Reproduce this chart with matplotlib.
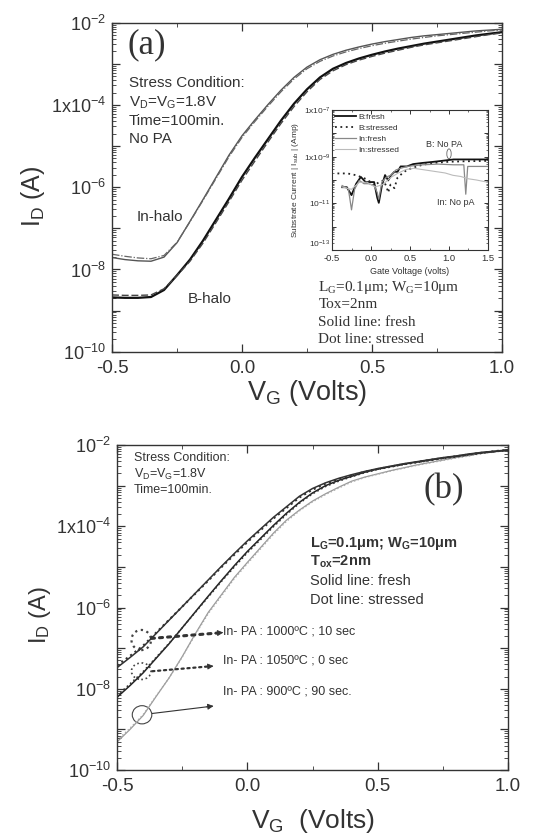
import numpy as np
import matplotlib
matplotlib.use('Agg')
import matplotlib.pyplot as plt
from matplotlib.patches import Ellipse
from matplotlib.ticker import FixedLocator, FixedFormatter, LogLocator, NullFormatter

plt.rcParams['font.family'] = ['Liberation Sans', 'DejaVu Sans']
plt.rcParams['mathtext.fontset'] = 'custom'
plt.rcParams['mathtext.rm'] = 'Liberation Sans'
plt.rcParams['mathtext.it'] = 'Liberation Sans:italic'
plt.rcParams['mathtext.bf'] = 'Liberation Sans:bold'

# ---------------- data ----------------
vg = [-0.50, -0.45, -0.40, -0.35, -0.30, -0.25, -0.20, -0.15, -0.10, -0.05,
      0.00, 0.05, 0.10, 0.15, 0.20, 0.25, 0.30, 0.35, 0.40, 0.45,
      0.50, 0.55, 0.60, 0.65, 0.70, 0.75, 0.80, 0.85, 0.90, 0.95, 1.00]

# panel (a): log10(I_D / A)
a_in_fresh = [-7.71, -7.76, -7.79, -7.80, -7.70, -7.35, -6.83, -6.30, -5.76, -5.22,
              -4.75, -4.36, -3.99, -3.64, -3.33, -3.08, -2.90, -2.77, -2.67, -2.59,
              -2.52, -2.46, -2.41, -2.36, -2.32, -2.29, -2.26, -2.23, -2.20, -2.18, -2.16]
a_in_stress = [-7.63, -7.68, -7.72, -7.74, -7.66, -7.34, -6.84, -6.32, -5.79, -5.26,
               -4.79, -4.40, -4.03, -3.68, -3.37, -3.12, -2.94, -2.81, -2.71, -2.63,
               -2.56, -2.50, -2.45, -2.40, -2.36, -2.32, -2.29, -2.26, -2.23, -2.20, -2.18]
a_b_fresh = [-8.68, -8.69, -8.69, -8.67, -8.50, -8.14, -7.76, -7.30, -6.79, -6.28,
             -5.75, -5.28, -4.83, -4.38, -3.97, -3.62, -3.33, -3.12, -2.98, -2.87,
             -2.78, -2.70, -2.63, -2.57, -2.51, -2.46, -2.41, -2.36, -2.31, -2.27, -2.23]
a_b_stress = [-8.62, -8.63, -8.63, -8.62, -8.47, -8.15, -7.80, -7.36, -6.86, -6.35,
              -5.83, -5.36, -4.90, -4.45, -4.04, -3.68, -3.38, -3.17, -3.02, -2.91,
              -2.82, -2.74, -2.67, -2.60, -2.54, -2.49, -2.44, -2.39, -2.34, -2.29, -2.25]

# panel (b): log10(I_D / A)
b_1000_fresh = [-7.48, -7.23, -6.97, -6.64, -6.31, -5.98, -5.65, -5.32, -4.99, -4.67,
                -4.36, -4.07, -3.78, -3.52, -3.26, -3.07, -2.93, -2.82, -2.73, -2.65,
                -2.58, -2.52, -2.46, -2.41, -2.36, -2.31, -2.27, -2.22, -2.18, -2.15, -2.12]
b_1000_stress = [-7.43, -7.19, -6.94, -6.62, -6.30, -5.98, -5.66, -5.34, -5.01, -4.70,
                 -4.39, -4.10, -3.81, -3.55, -3.29, -3.10, -2.95, -2.84, -2.75, -2.66,
                 -2.59, -2.53, -2.47, -2.42, -2.37, -2.32, -2.28, -2.23, -2.19, -2.15, -2.12]
b_1050_fresh = [-8.21, -7.92, -7.61, -7.25, -6.89, -6.50, -6.11, -5.72, -5.34, -4.97,
                -4.62, -4.30, -3.98, -3.68, -3.41, -3.18, -3.00, -2.87, -2.77, -2.67,
                -2.59, -2.53, -2.47, -2.42, -2.37, -2.32, -2.28, -2.23, -2.19, -2.16, -2.13]
b_1050_stress = [-8.17, -7.88, -7.58, -7.23, -6.88, -6.50, -6.12, -5.74, -5.36, -5.00,
                 -4.65, -4.33, -4.01, -3.71, -3.43, -3.20, -3.02, -2.89, -2.78, -2.68,
                 -2.60, -2.54, -2.48, -2.43, -2.38, -2.33, -2.29, -2.24, -2.20, -2.16, -2.13]
b_900_fresh = [-9.31, -9.00, -8.66, -8.19, -7.73, -7.21, -6.65, -6.12, -5.69, -5.26,
               -4.89, -4.53, -4.17, -3.85, -3.60, -3.38, -3.20, -3.04, -2.89, -2.79,
               -2.71, -2.63, -2.56, -2.49, -2.43, -2.37, -2.31, -2.26, -2.20, -2.16, -2.12]
b_900_stress = [-9.27, -8.97, -8.64, -8.18, -7.73, -7.22, -6.67, -6.15, -5.72, -5.29,
                -4.92, -4.56, -4.20, -3.88, -3.62, -3.40, -3.22, -3.06, -2.91, -2.80,
                -2.72, -2.64, -2.57, -2.50, -2.44, -2.38, -2.32, -2.27, -2.21, -2.17, -2.13]

# inset: substrate current, log10(|I_sub| / A)
ins_b_fresh_v = [-0.37, -0.31, -0.25, -0.19, -0.13, -0.07, 0.00, 0.04, 0.08, 0.10, 0.14, 0.18,
                 0.22, 0.26, 0.30, 0.34, 0.38, 0.46, 0.54, 0.66, 0.78, 0.86, 1.06, 1.26, 1.50]
ins_b_fresh = [-10.31, -10.31, -10.65, -10.16, -9.87, -10.09, -10.09, -10.09, -10.76, -10.98, -10.24, -9.79,
               -10.02, -9.79, -9.65, -9.65, -9.42, -9.42, -9.32, -9.27, -9.23, -9.20, -9.12, -9.12, -9.12]
ins_b_stress_v = [-0.43, -0.37, -0.31, -0.25, -0.19, -0.13, -0.07, 0.00, 0.04, 0.10, 0.16, 0.20,
                  0.22, 0.25, 0.30, 0.34, 0.40, 0.46, 0.56, 0.66, 0.80, 1.00, 1.20, 1.50]
ins_b_stress = [-9.72, -9.72, -9.72, -9.75, -9.80, -9.87, -9.95, -10.10, -10.24, -10.10, -10.02, -10.30,
                -10.54, -10.20, -10.35, -9.90, -9.72, -9.57, -9.45, -9.35, -9.27, -9.22, -9.20, -9.18]
ins_in_fresh_v = [-0.37, -0.29, -0.25, -0.21, -0.15, -0.09, -0.03, 0.04, 0.08, 0.10, 0.14, 0.20,
                  0.26, 0.32, 0.38, 0.46, 0.66, 0.86, 1.06, 1.19, 1.215, 1.24, 1.30, 1.50]
ins_in_fresh = [-10.24, -10.39, -11.28, -10.39, -10.02, -10.16, -10.16, -10.24, -10.54, -10.83, -10.09, -9.87,
                -9.79, -9.57, -9.50, -9.42, -9.35, -9.32, -9.35, -9.35, -10.61, -9.42, -9.42, -9.42]
ins_in_stress_v = [-0.37, -0.25, -0.15, -0.05, 0.05, 0.15, 0.25, 0.35, 0.45, 0.55,
                   0.65, 0.75, 0.85, 0.95, 1.05, 1.15, 1.25, 1.35, 1.50]
ins_in_stress = [-10.30, -10.40, -10.10, -10.10, -10.30, -10.20, -9.90, -9.70, -9.55, -9.50,
                 -9.55, -9.60, -9.65, -9.70, -9.80, -9.85, -9.95, -10.00, -10.10]

x_ticks = [-0.5, 0.0, 0.5, 1.0]
x_tick_labels = ['-0.5', '0.0', '0.5', '1.0']
x_minor = [-0.25, 0.25, 0.75]
y_decades = [1e-10, 1e-9, 1e-8, 1e-7, 1e-6, 1e-5, 1e-4, 1e-3, 1e-2]
y_labels = [r'$10^{-10}$', '', r'$10^{-8}$', '', r'$10^{-6}$', '', r'$1\mathrm{x}10^{-4}$', '', r'$10^{-2}$']

ins_x_ticks = [-0.5, 0.0, 0.5, 1.0, 1.5]
ins_x_labels = ['-0.5', '0.0', '0.5', '1.0', '1.5']
ins_x_minor = [-0.25, 0.25, 0.75, 1.25]
ins_decades = [1e-13, 1e-12, 1e-11, 1e-10, 1e-9, 1e-8, 1e-7]
ins_y_labels = [r'$10^{-13}$', '', r'$10^{-11}$', '', r'$1\mathrm{x}10^{-9}$', '', r'$1\mathrm{x}10^{-7}$']

TXT = '#333333'
SERIF = ['Liberation Serif', 'DejaVu Serif']


def pw(lst):
    return 10.0 ** np.asarray(lst)


fig = plt.figure(figsize=(5.45, 8.4), dpi=100)
fig.patch.set_facecolor('white')
axA = fig.add_axes([0.2055, 0.5813, 0.7156, 0.3917])
axB = fig.add_axes([0.2147, 0.0833, 0.7174, 0.3869])


def style_main(ax):
    ax.set_yscale('log')
    ax.set_xlim(-0.5, 1.0)
    ax.set_ylim(1e-10, 1e-2)
    ax.xaxis.set_major_locator(FixedLocator(x_ticks))
    ax.xaxis.set_major_formatter(FixedFormatter(x_tick_labels))
    ax.xaxis.set_minor_locator(FixedLocator(x_minor))
    ax.yaxis.set_major_locator(FixedLocator(y_decades))
    ax.yaxis.set_major_formatter(FixedFormatter(y_labels))
    ax.yaxis.set_minor_locator(LogLocator(base=10, subs=np.arange(2, 10) * 1.0, numticks=100))
    ax.yaxis.set_minor_formatter(NullFormatter())
    ax.tick_params(which='both', direction='in', top=True, right=True, color=TXT, labelcolor=TXT)
    ax.tick_params(which='major', length=6, width=0.9)
    ax.tick_params(which='minor', length=3, width=0.6)
    ax.tick_params(axis='x', labelsize=13.5, pad=6)
    ax.tick_params(axis='y', labelsize=13, pad=4)
    for s in ax.spines.values():
        s.set_linewidth(1.0)
        s.set_color(TXT)


# ---------------- panel (a) ----------------
style_main(axA)
axA.plot(vg, pw(a_in_fresh), color='#555555', lw=1.0)
axA.plot(vg, pw(a_in_stress), color='#666666', lw=0.9, dashes=(6, 1.5, 1, 1.5))
axA.plot(vg, pw(a_b_fresh), color='#111111', lw=1.6)
axA.plot(vg, pw(a_b_stress), color='#444444', lw=1.0, dashes=(5, 2))

axA.set_xlabel(r'V$_\mathregular{G}$ (Volts)', fontsize=19.5, color=TXT, va='baseline')
axA.xaxis.set_label_coords(0.499, -0.147)
axA.set_ylabel(r'I$_\mathregular{D}$ (A)', fontsize=18, color=TXT, va='center', ha='center')
axA.yaxis.set_label_coords(-0.203, 0.471)

axA.text(0.04, 0.932, '(a)', transform=axA.transAxes, fontsize=25, family=SERIF,
         va='center', color=TXT)
for txt, fy in [('Stress Condition:', 0.818),
                (r'V$_\mathregular{D}$=V$_\mathregular{G}$=1.8V', 0.758),
                ('Time=100min.', 0.701), ('No PA', 0.646)]:
    axA.text(0.043, fy, txt, transform=axA.transAxes, fontsize=11, va='center', color=TXT)
axA.text(0.063, 0.41, 'In-halo', transform=axA.transAxes, fontsize=11, va='center', color=TXT)
axA.text(0.195, 0.16, 'B-halo', transform=axA.transAxes, fontsize=11, va='center', color=TXT)
for txt, fy in [(r'L$_\mathregular{G}$=0.1μm; W$_\mathregular{G}$=10μm', 0.196),
                ('Tox=2nm', 0.143), ('Solid line: fresh', 0.090), ('Dot line: stressed', 0.037)]:
    axA.text(0.529, fy, txt, transform=axA.transAxes, fontsize=11, family=SERIF,
             va='center', color=TXT)

# ---------------- inset ----------------
axI = fig.add_axes([0.6092, 0.7024, 0.2862, 0.1667])
axI.set_yscale('log')
axI.set_xlim(-0.5, 1.5)
axI.set_ylim(1e-13, 1e-7)
l1, = axI.plot(ins_b_fresh_v, pw(ins_b_fresh), color='#111111', lw=1.3, label='B:fresh')
l2, = axI.plot(ins_b_stress_v, pw(ins_b_stress), color='#222222', lw=1.3, ls=(0, (1, 2)),
               label='B:stressed')
l3, = axI.plot(ins_in_fresh_v, pw(ins_in_fresh), color='#888888', lw=0.9, label='In:fresh')
l4, = axI.plot(ins_in_stress_v, pw(ins_in_stress), color='#bbbbbb', lw=0.8, label='In:stressed')
axI.xaxis.set_major_locator(FixedLocator(ins_x_ticks))
axI.xaxis.set_major_formatter(FixedFormatter(ins_x_labels))
axI.xaxis.set_minor_locator(FixedLocator(ins_x_minor))
axI.yaxis.set_major_locator(FixedLocator(ins_decades))
axI.yaxis.set_major_formatter(FixedFormatter(ins_y_labels))
axI.yaxis.set_minor_locator(LogLocator(base=10, subs=np.arange(2, 10) * 1.0, numticks=100))
axI.yaxis.set_minor_formatter(NullFormatter())
axI.tick_params(which='both', direction='in', top=True, right=True, color=TXT, labelcolor=TXT)
axI.tick_params(which='major', length=3, width=0.7)
axI.tick_params(which='minor', length=1.5, width=0.5)
axI.tick_params(axis='x', labelsize=6.8, pad=3.0)
axI.tick_params(axis='y', labelsize=6, pad=1.2)
for s in axI.spines.values():
    s.set_linewidth(0.8)
    s.set_color(TXT)
# lift the bottom-most y label just above the corner so it clears the "-0.5" label
axI.yaxis.get_major_ticks()[0].label1.set_verticalalignment('bottom')
axI.set_xlabel('Gate Voltage (volts)', fontsize=6.5, color=TXT, va='center')
axI.xaxis.set_label_coords(0.5, -0.155)
axI.set_ylabel(r'Substrate Current | I$_\mathregular{sub}$ | (Amp)', fontsize=6, color=TXT,
               va='center', ha='center')
axI.yaxis.set_label_coords(-0.235, 0.5)
leg = axI.legend(handles=[l1, l2, l3, l4], loc='upper left', bbox_to_anchor=(0.02, 0.975),
                 frameon=False, fontsize=6, handlelength=2.5, handletextpad=0.25,
                 labelspacing=0.35, borderaxespad=0.0, borderpad=0.0)
for t in leg.get_texts():
    t.set_color(TXT)
axI.text(0.60, 0.755, 'B: No PA', transform=axI.transAxes, fontsize=6.5, va='center', color=TXT)
axI.text(0.675, 0.34, 'In: No pA', transform=axI.transAxes, fontsize=6.5, va='center', color=TXT)
axI.add_patch(Ellipse((0.75, 0.687), 0.028, 0.07, transform=axI.transAxes, fill=False,
                      lw=0.6, color='#666666'))

# ---------------- panel (b) ----------------
style_main(axB)
axB.plot(vg, pw(b_900_fresh), color='#9a9a9a', lw=0.9)
axB.plot(vg, pw(b_900_stress), color='#aaaaaa', lw=1.0, ls=':')
axB.plot(vg, pw(b_1050_fresh), color='#222222', lw=1.1)
axB.plot(vg, pw(b_1050_stress), color='#333333', lw=1.2, ls=':')
axB.plot(vg, pw(b_1000_fresh), color='#333333', lw=1.1)
axB.plot(vg, pw(b_1000_stress), color='#333333', lw=1.5, ls=':')

axB.set_xlabel(r'V$_\mathregular{G}$  (Volts)', fontsize=19, color=TXT, va='baseline')
axB.xaxis.set_label_coords(0.502, -0.178)
axB.set_ylabel(r'I$_\mathregular{D}$ (A)', fontsize=17, color=TXT, va='center', ha='center')
axB.yaxis.set_label_coords(-0.197, 0.477)

for txt, fy in [('Stress Condition:', 0.959),
                (r'V$_\mathregular{D}$=V$_\mathregular{G}$=1.8V', 0.91),
                ('Time=100min.', 0.862)]:
    axB.text(0.043, fy, txt, transform=axB.transAxes, fontsize=9, va='center', color=TXT)
axB.text(0.835, 0.862, '(b)', transform=axB.transAxes, fontsize=25, family=SERIF,
         ha='center', va='center', color=TXT)
axB.text(0.493, 0.697, r'L$_\mathregular{G}$=0.1μm; W$_\mathregular{G}$=10μm', transform=axB.transAxes,
         fontsize=10.5, fontweight='bold', va='center', color=TXT)
axB.text(0.493, 0.641, r'T$_\mathregular{ox}$=2nm', transform=axB.transAxes,
         fontsize=10.5, fontweight='bold', va='center', color=TXT)
axB.text(0.493, 0.583, 'Solid line: fresh', transform=axB.transAxes, fontsize=10.5,
         va='center', color=TXT)
axB.text(0.493, 0.523, 'Dot line: stressed', transform=axB.transAxes, fontsize=10.5,
         va='center', color=TXT)

ann_texts = ['In- PA : 1000ºC ; 10 sec', 'In- PA : 1050ºC ; 0 sec', 'In- PA : 900ºC ; 90 sec.']
ann_y = [0.427, 0.337, 0.243]
for txt, fy in zip(ann_texts, ann_y):
    axB.text(0.271, fy, txt, transform=axB.transAxes, fontsize=9, va='center', color=TXT)

ells = [((0.062, 0.40), 0.050, 0.062, ':', 1.6),
        ((0.062, 0.304), 0.050, 0.051, ':', 1.2),
        ((0.064, 0.17), 0.050, 0.056, '-', 0.8)]
for (c, w, h, ls, lw) in ells:
    axB.add_patch(Ellipse(c, w, h, transform=axB.transAxes, fill=False, ls=ls, lw=lw,
                          color='#444444'))

arrows = [((0.088, 0.405), (0.272, 0.423), ':', 2.2),
          ((0.090, 0.304), (0.247, 0.320), ':', 1.6),
          ((0.090, 0.174), (0.247, 0.197), '-', 0.8)]
for (p0, p1, ls, lw) in arrows:
    axB.annotate('', xy=p1, xytext=p0, xycoords='axes fraction', textcoords='axes fraction',
                 arrowprops=dict(arrowstyle='-', ls=ls, lw=lw, color='#333333',
                                 shrinkA=0, shrinkB=4))
    dx, dy = p1[0] - p0[0], p1[1] - p0[1]
    axB.annotate('', xy=p1, xytext=(p1[0] - dx * 0.12, p1[1] - dy * 0.12),
                 xycoords='axes fraction', textcoords='axes fraction',
                 arrowprops=dict(arrowstyle='-|>', lw=0.6, color='#333333',
                                 mutation_scale=9, shrinkA=0, shrinkB=0))

fig.savefig('out.png', dpi=100, facecolor='white')
